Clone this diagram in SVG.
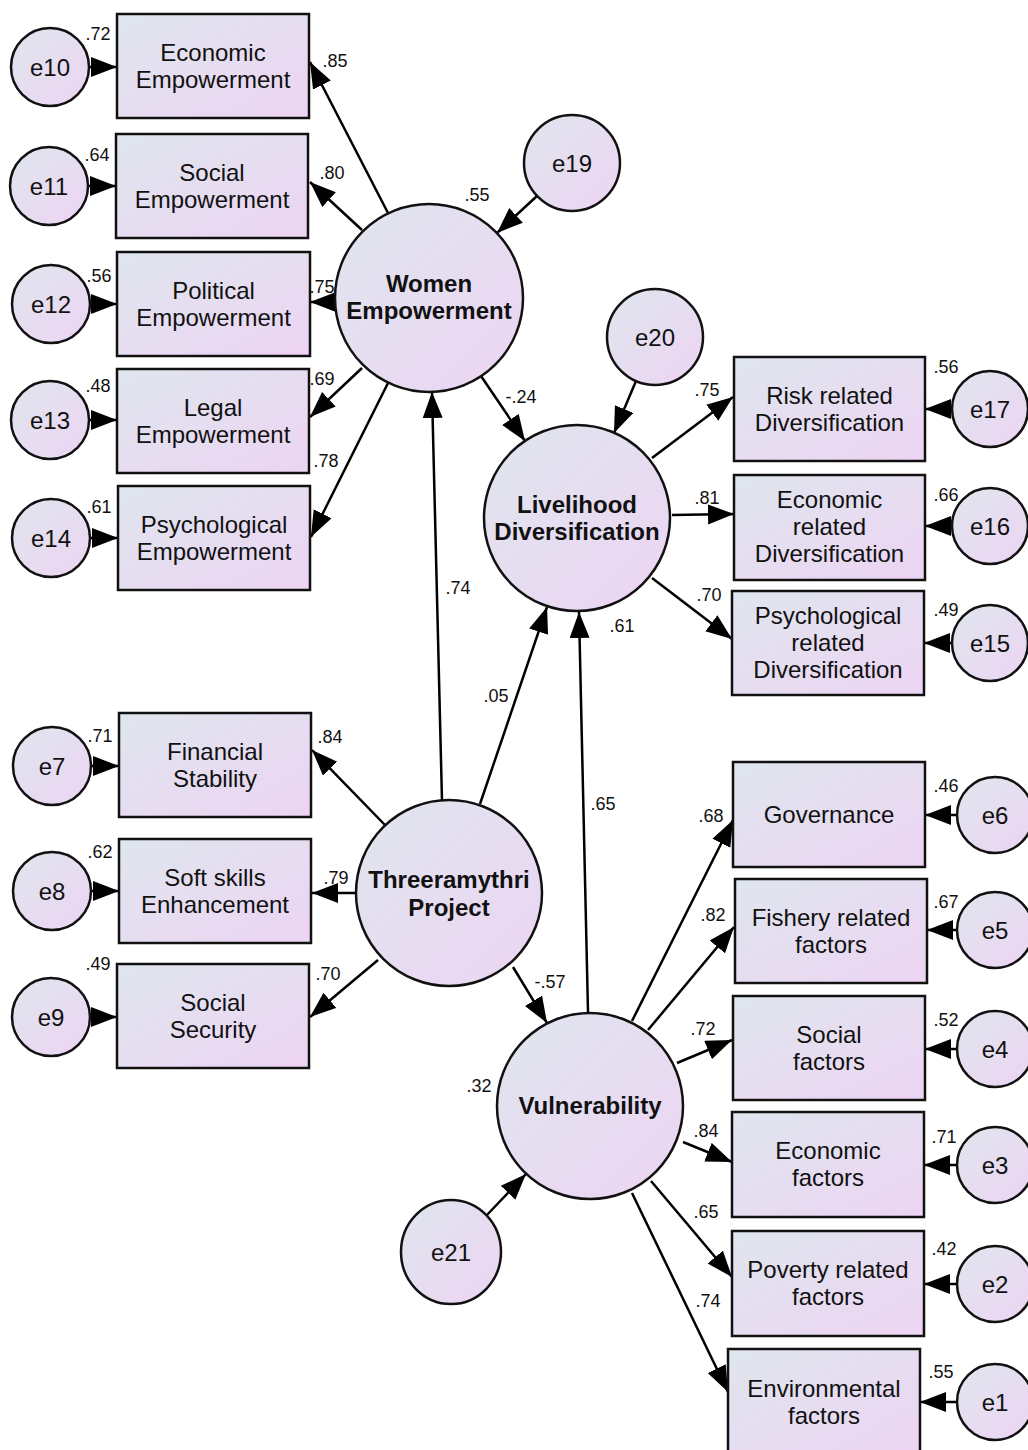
<svg xmlns="http://www.w3.org/2000/svg" width="1028" height="1450" viewBox="0 0 1028 1450">
<defs>
<linearGradient id="g" x1="0" y1="0" x2="1" y2="1">
<stop offset="0" stop-color="#dfe6ee"/>
<stop offset="1" stop-color="#edd4f3"/>
</linearGradient>
<marker id="a" markerUnits="userSpaceOnUse" markerWidth="28" markerHeight="22" refX="26" refY="10" orient="auto" viewBox="0 0 28 22">
<path d="M0,0 L26,10 L0,20 z" fill="#000"/>
</marker>
<style>
.s{fill:url(#g);stroke:#111;stroke-width:2.5}
.t{font-family:"Liberation Sans",Arial,sans-serif;font-size:24px;fill:#111;text-anchor:middle}
.b{font-weight:bold}
.n{font-family:"Liberation Sans",Arial,sans-serif;font-size:18px;fill:#111;text-anchor:middle}
.c line{stroke:#000;stroke-width:2.5;marker-end:url(#a)}
</style>
</defs>
<rect width="1028" height="1450" fill="#fff"/>

<g class="c" id="connectors">
<line x1="388" y1="213" x2="310" y2="62"/>
<line x1="362" y1="230" x2="310" y2="182"/>
<line x1="338" y1="302" x2="310" y2="302"/>
<line x1="362" y1="368" x2="310" y2="417"/>
<line x1="388" y1="383" x2="311" y2="537"/>
<line x1="537" y1="196" x2="497" y2="233"/>
<line x1="481" y1="376" x2="525" y2="441"/>
<line x1="636" y1="381" x2="614" y2="433"/>
<line x1="652" y1="458" x2="733" y2="397"/>
<line x1="672" y1="515" x2="734" y2="514"/>
<line x1="652" y1="578" x2="732" y2="639"/>
<line x1="442" y1="801" x2="432" y2="392"/>
<line x1="480" y1="804" x2="547" y2="607"/>
<line x1="588" y1="1012" x2="579" y2="612"/>
<line x1="385" y1="825" x2="312" y2="750"/>
<line x1="356" y1="893" x2="312" y2="893"/>
<line x1="378" y1="960" x2="310" y2="1017"/>
<line x1="513" y1="967" x2="547" y2="1023"/>
<line x1="486" y1="1216" x2="526" y2="1174"/>
<line x1="632" y1="1021" x2="733" y2="820"/>
<line x1="648" y1="1030" x2="734" y2="927"/>
<line x1="677" y1="1063" x2="732" y2="1040"/>
<line x1="683" y1="1142" x2="732" y2="1162"/>
<line x1="651" y1="1181" x2="732" y2="1277"/>
<line x1="632" y1="1193" x2="728" y2="1392"/>
<line x1="89" y1="67" x2="117" y2="67"/>
<line x1="88" y1="186" x2="116" y2="186"/>
<line x1="90" y1="304" x2="117" y2="304"/>
<line x1="89" y1="420" x2="117" y2="420"/>
<line x1="90" y1="538" x2="118" y2="538"/>
<line x1="91" y1="766" x2="119" y2="766"/>
<line x1="91" y1="891" x2="119" y2="891"/>
<line x1="90" y1="1017" x2="117" y2="1017"/>
<line x1="952" y1="409" x2="925" y2="409"/>
<line x1="952" y1="526" x2="925" y2="526"/>
<line x1="952" y1="643" x2="924" y2="643"/>
<line x1="957" y1="815" x2="925" y2="815"/>
<line x1="957" y1="930" x2="927" y2="930"/>
<line x1="957" y1="1049" x2="925" y2="1049"/>
<line x1="957" y1="1165" x2="924" y2="1165"/>
<line x1="957" y1="1284" x2="924" y2="1284"/>
<line x1="957" y1="1402" x2="920" y2="1402"/>
</g>

<g id="n_women"><circle class="s" cx="429" cy="298" r="94"/><text class="t b" x="429" y="292">Women</text><text class="t b" x="429" y="319">Empowerment</text></g>
<g id="n_liveli"><circle class="s" cx="577" cy="518" r="93"/><text class="t b" x="577" y="513">Livelihood</text><text class="t b" x="577" y="540">Diversification</text></g>
<g id="n_three"><circle class="s" cx="449" cy="893" r="93"/><text class="t b" x="449" y="888">Threeramythri</text><text class="t b" x="449" y="916">Project</text></g>
<g id="n_vuln"><circle class="s" cx="590" cy="1106" r="93"/><text class="t b" x="590" y="1114">Vulnerability</text></g>

<g id="n_ecoemp"><rect class="s" x="117" y="14" width="192" height="104"/><text class="t" x="213" y="61">Economic</text><text class="t" x="213" y="88">Empowerment</text></g>
<g id="n_socemp"><rect class="s" x="116" y="134" width="192" height="104"/><text class="t" x="212" y="181">Social</text><text class="t" x="212" y="208">Empowerment</text></g>
<g id="n_polemp"><rect class="s" x="117" y="252" width="193" height="104"/><text class="t" x="213.5" y="299">Political</text><text class="t" x="213.5" y="326">Empowerment</text></g>
<g id="n_legemp"><rect class="s" x="117" y="369" width="192" height="104"/><text class="t" x="213" y="416">Legal</text><text class="t" x="213" y="443">Empowerment</text></g>
<g id="n_psyemp"><rect class="s" x="118" y="486" width="192" height="104"/><text class="t" x="214" y="533">Psychological</text><text class="t" x="214" y="560">Empowerment</text></g>

<g id="n_risk"><rect class="s" x="734" y="357" width="191" height="104"/><text class="t" x="829.5" y="404">Risk related</text><text class="t" x="829.5" y="431">Diversification</text></g>
<g id="n_ecodiv"><rect class="s" x="734" y="475" width="191" height="105"/><text class="t" x="829.5" y="508">Economic</text><text class="t" x="829.5" y="535">related</text><text class="t" x="829.5" y="562">Diversification</text></g>
<g id="n_psydiv"><rect class="s" x="732" y="591" width="192" height="104"/><text class="t" x="828" y="624">Psychological</text><text class="t" x="828" y="651">related</text><text class="t" x="828" y="678">Diversification</text></g>

<g id="n_fin"><rect class="s" x="119" y="713" width="192" height="104"/><text class="t" x="215" y="760">Financial</text><text class="t" x="215" y="787">Stability</text></g>
<g id="n_soft"><rect class="s" x="119" y="839" width="192" height="104"/><text class="t" x="215" y="886">Soft skills</text><text class="t" x="215" y="913">Enhancement</text></g>
<g id="n_socsec"><rect class="s" x="117" y="964" width="192" height="104"/><text class="t" x="213" y="1011">Social</text><text class="t" x="213" y="1038">Security</text></g>

<g id="n_gov"><rect class="s" x="733" y="762" width="192" height="105"/><text class="t" x="829" y="823">Governance</text></g>
<g id="n_fish"><rect class="s" x="735" y="879" width="192" height="104"/><text class="t" x="831" y="926">Fishery related</text><text class="t" x="831" y="953">factors</text></g>
<g id="n_socfac"><rect class="s" x="733" y="996" width="192" height="104"/><text class="t" x="829" y="1043">Social</text><text class="t" x="829" y="1070">factors</text></g>
<g id="n_ecofac"><rect class="s" x="732" y="1112" width="192" height="105"/><text class="t" x="828" y="1159">Economic</text><text class="t" x="828" y="1186">factors</text></g>
<g id="n_pov"><rect class="s" x="732" y="1231" width="192" height="105"/><text class="t" x="828" y="1278">Poverty related</text><text class="t" x="828" y="1305">factors</text></g>
<g id="n_env"><rect class="s" x="728" y="1349" width="192" height="104"/><text class="t" x="824" y="1397">Environmental</text><text class="t" x="824" y="1424">factors</text></g>

<g id="n_e10"><circle class="s" cx="50" cy="67" r="39"/><text class="t" x="50" y="76">e10</text></g>
<g id="n_e11"><circle class="s" cx="49" cy="186" r="39"/><text class="t" x="49" y="195">e11</text></g>
<g id="n_e12"><circle class="s" cx="51" cy="304" r="39"/><text class="t" x="51" y="313">e12</text></g>
<g id="n_e13"><circle class="s" cx="50" cy="420" r="39"/><text class="t" x="50" y="429">e13</text></g>
<g id="n_e14"><circle class="s" cx="51" cy="538" r="39"/><text class="t" x="51" y="547">e14</text></g>
<g id="n_e7"><circle class="s" cx="52" cy="766" r="39"/><text class="t" x="52" y="775">e7</text></g>
<g id="n_e8"><circle class="s" cx="52" cy="891" r="39"/><text class="t" x="52" y="900">e8</text></g>
<g id="n_e9"><circle class="s" cx="51" cy="1017" r="39"/><text class="t" x="51" y="1026">e9</text></g>
<g id="n_e19"><circle class="s" cx="572" cy="163" r="48"/><text class="t" x="572" y="172">e19</text></g>
<g id="n_e20"><circle class="s" cx="655" cy="337" r="48"/><text class="t" x="655" y="346">e20</text></g>
<g id="n_e21"><ellipse class="s" cx="451" cy="1252" rx="50" ry="52"/><text class="t" x="451" y="1261">e21</text></g>
<g id="n_e17"><circle class="s" cx="990" cy="409" r="38"/><text class="t" x="990" y="418">e17</text></g>
<g id="n_e16"><circle class="s" cx="990" cy="526" r="38"/><text class="t" x="990" y="535">e16</text></g>
<g id="n_e15"><circle class="s" cx="990" cy="643" r="38"/><text class="t" x="990" y="652">e15</text></g>
<g id="n_e6"><circle class="s" cx="995" cy="815" r="38"/><text class="t" x="995" y="824">e6</text></g>
<g id="n_e5"><circle class="s" cx="995" cy="930" r="38"/><text class="t" x="995" y="939">e5</text></g>
<g id="n_e4"><circle class="s" cx="995" cy="1049" r="38"/><text class="t" x="995" y="1058">e4</text></g>
<g id="n_e3"><circle class="s" cx="995" cy="1165" r="38"/><text class="t" x="995" y="1174">e3</text></g>
<g id="n_e2"><circle class="s" cx="995" cy="1284" r="38"/><text class="t" x="995" y="1293">e2</text></g>
<g id="n_e1"><circle class="s" cx="995" cy="1402" r="38"/><text class="t" x="995" y="1411">e1</text></g>

<g id="labels">
<text class="n" x="98" y="40">.72</text>
<text class="n" x="335" y="67">.85</text>
<text class="n" x="97" y="161">.64</text>
<text class="n" x="332" y="179">.80</text>
<text class="n" x="99" y="282">.56</text>
<text class="n" x="322" y="293">.75</text>
<text class="n" x="477" y="201">.55</text>
<text class="n" x="98" y="392">.48</text>
<text class="n" x="322" y="385">.69</text>
<text class="n" x="99" y="513">.61</text>
<text class="n" x="326" y="467">.78</text>
<text class="n" x="521" y="403">-.24</text>
<text class="n" x="707" y="396">.75</text>
<text class="n" x="946" y="373">.56</text>
<text class="n" x="707" y="504">.81</text>
<text class="n" x="946" y="501">.66</text>
<text class="n" x="709" y="601">.70</text>
<text class="n" x="946" y="616">.49</text>
<text class="n" x="622" y="632">.61</text>
<text class="n" x="458" y="594">.74</text>
<text class="n" x="496" y="702">.05</text>
<text class="n" x="603" y="810">.65</text>
<text class="n" x="100" y="742">.71</text>
<text class="n" x="330" y="743">.84</text>
<text class="n" x="100" y="858">.62</text>
<text class="n" x="336" y="884">.79</text>
<text class="n" x="98" y="970">.49</text>
<text class="n" x="328" y="980">.70</text>
<text class="n" x="550" y="988">-.57</text>
<text class="n" x="711" y="822">.68</text>
<text class="n" x="946" y="792">.46</text>
<text class="n" x="713" y="921">.82</text>
<text class="n" x="946" y="908">.67</text>
<text class="n" x="703" y="1035">.72</text>
<text class="n" x="946" y="1026">.52</text>
<text class="n" x="479" y="1092">.32</text>
<text class="n" x="706" y="1137">.84</text>
<text class="n" x="944" y="1143">.71</text>
<text class="n" x="706" y="1218">.65</text>
<text class="n" x="944" y="1255">.42</text>
<text class="n" x="708" y="1307">.74</text>
<text class="n" x="941" y="1378">.55</text>
</g>
</svg>
